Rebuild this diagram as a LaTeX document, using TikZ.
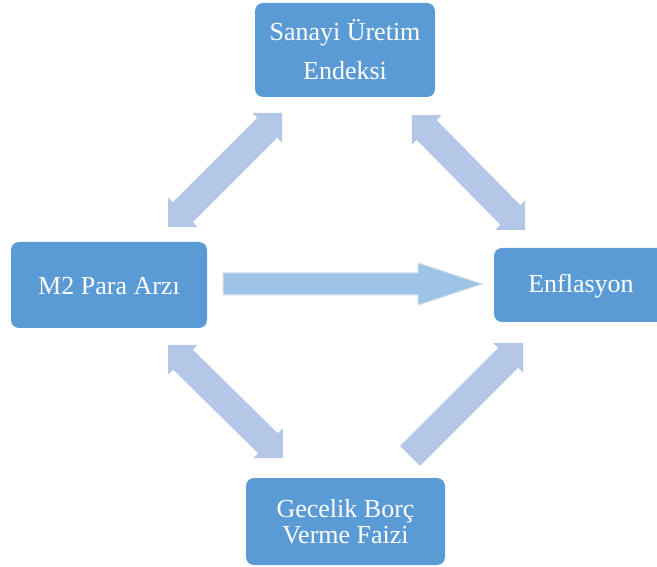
\documentclass[tikz,border=0pt]{standalone}
\usepackage{fontspec}
\setmainfont{Liberation Serif}
\usetikzlibrary{calc}
\definecolor{boxblue}{HTML}{5B9BD5}
\definecolor{arrowblue}{HTML}{B4C7E7}
\definecolor{harrow}{HTML}{9DC3E6}
\definecolor{harrowedge}{HTML}{D3DEEC}
\tikzset{
  box/.style={fill=boxblue, draw=none, rounded corners=8pt},
  boxtext/.style={text=white, align=center, inner sep=0pt,
    font=\fontsize{26}{39}\selectfont},
  boxtexttight/.style={text=white, align=center, inner sep=0pt,
    font=\fontsize{26}{26}\selectfont},
  blockarrow/.style={fill=arrowblue, draw=none},
}
\begin{document}
\begin{tikzpicture}[x=1pt,y=-1pt]
\useasboundingbox (0,0) rectangle (657,567);
% boxes
\fill[box] (255,3) rectangle (435,97);
\node[boxtext] (sanayi) at (345,50) {Sanayi Üretim\\Endeksi};
\fill[box] (11,242) rectangle (207,328);
\node[boxtext] (m2) at (109,286) {M2 Para Arzı};
\fill[box] (494,248) rectangle (668,322);
\node[boxtext] (enf) at (581,286) {Enflasyon};
\fill[box] (246,478) rectangle (445,565);
\node[boxtexttight] (gecelik) at (345.5,522) {Gecelik Borç\\Verme Faizi};

% arrow end coordinates
\coordinate (a1) at (168,227); \coordinate (b1) at (282,113);
\coordinate (a2) at (412,115); \coordinate (b2) at (525,230);
\coordinate (a3) at (168,345); \coordinate (b3) at (283,458);
\coordinate (a4) at (410,456); \coordinate (b4) at (523,343);
\coordinate (a5) at (223,284); \coordinate (b5) at (482,284);

% double arrows
\foreach \A/\B in {a1/b1,a2/b2,a3/b3}{
  \coordinate (HA) at ($(\A)!21pt!(\B)$);
  \coordinate (HB) at ($(\B)!21pt!(\A)$);
  \fill[blockarrow] (\A) -- ($(HA)!21pt!90:(\B)$) -- ($(HA)!14pt!90:(\B)$)
    -- ($(HB)!14pt!-90:(\A)$) -- ($(HB)!21pt!-90:(\A)$) -- (\B)
    -- ($(HB)!21pt!90:(\A)$) -- ($(HB)!14pt!90:(\A)$)
    -- ($(HA)!14pt!-90:(\B)$) -- ($(HA)!21pt!-90:(\B)$) -- cycle;
}
% single diagonal arrow
\coordinate (HB) at ($(b4)!21pt!(a4)$);
\fill[blockarrow] ($(a4)!14pt!90:(b4)$) -- ($(HB)!14pt!-90:(a4)$)
  -- ($(HB)!21pt!-90:(a4)$) -- (b4) -- ($(HB)!21pt!90:(a4)$)
  -- ($(HB)!14pt!90:(a4)$) -- ($(a4)!14pt!-90:(b4)$) -- cycle;
% horizontal arrow
\coordinate (HH) at ($(b5)!64pt!(a5)$);
\filldraw[fill=harrow, draw=harrowedge, line width=1pt]
  ($(a5)!11pt!90:(b5)$) -- ($(HH)!11pt!-90:(a5)$) -- ($(HH)!21pt!-90:(a5)$)
  -- (b5) -- ($(HH)!21pt!90:(a5)$) -- ($(HH)!11pt!90:(a5)$)
  -- ($(a5)!11pt!-90:(b5)$) -- cycle;
\end{tikzpicture}
\end{document}
